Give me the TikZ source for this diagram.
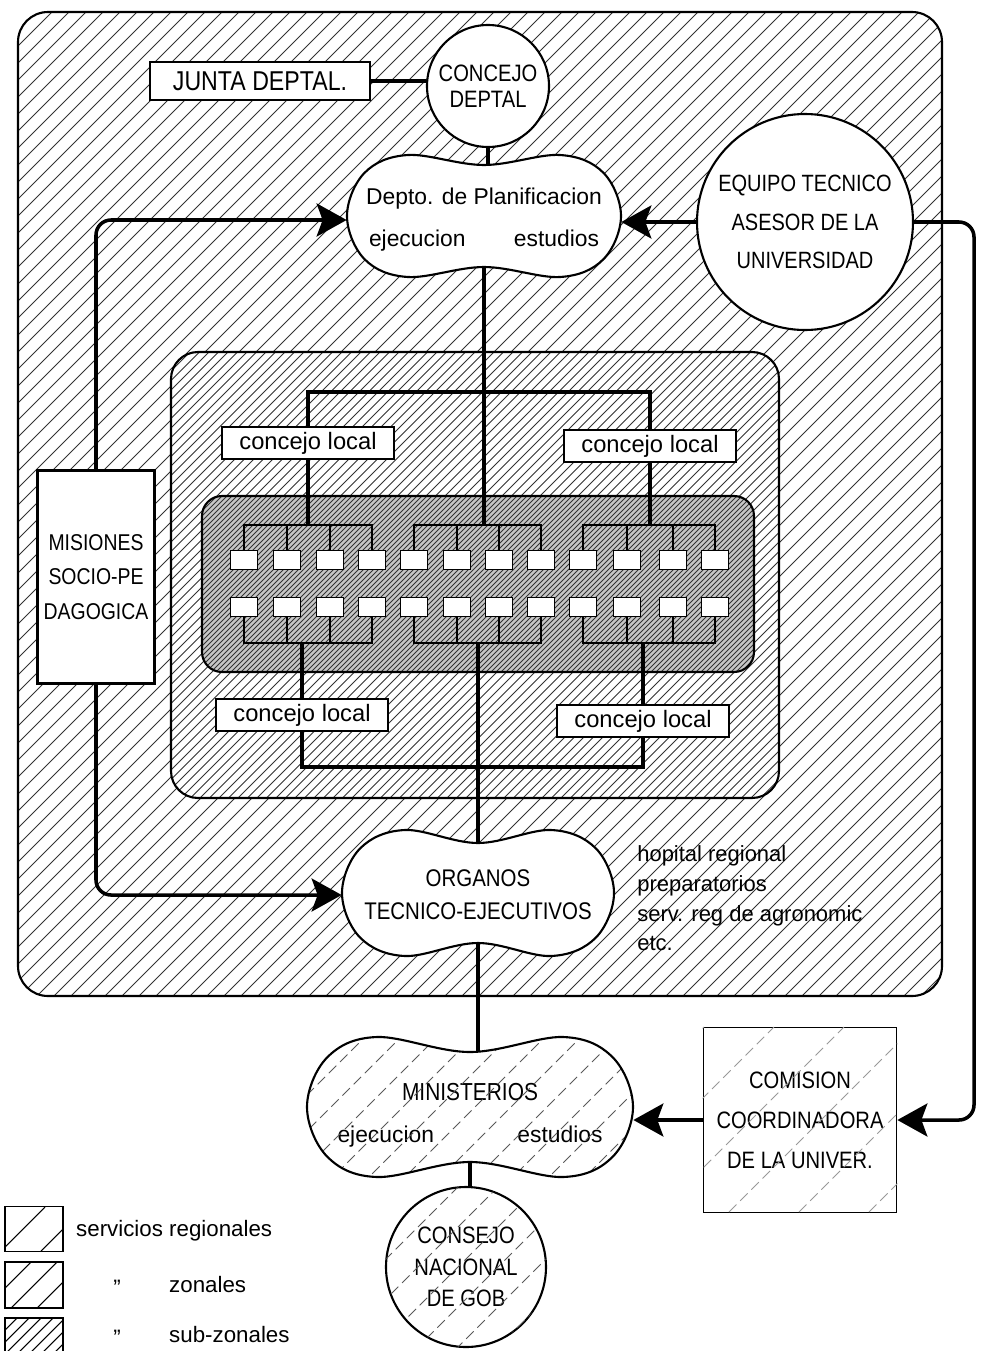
\documentclass[tikz,border=0pt]{standalone}
\usepackage{fontspec}
\setmainfont{Liberation Sans}
\newfontfamily\capsfont{Liberation Sans}[FakeStretch=0.85]
\usetikzlibrary{arrows.meta}

\pgfdeclarelayer{zones}
\pgfdeclarelayer{wires}
\pgfsetlayers{zones,wires,main}

% diagonal hatching of a box: x1, y1, x2, y2, gap
\newcommand{\hatchlines}[5]{%
  \pgfmathtruncatemacro{\hn}{(#3+#4-#1-#2)/#5}%
  \foreach \k in {0,...,\hn}{%
    \pgfmathsetmacro{\hc}{#1+#2+\k*#5}%
    \draw ({\hc-#4},#4) -- ({\hc-#2},#2);%
  }}

% two-lobed outline: options, centre, half width, half height, waist
\newcommand{\peanut}[5]{%
  \path[#1, shift={#2}] plot[smooth cycle, tension=0.6] coordinates {
    (#3,0) ({#3-0.29*#4},{0.71*#4}) ({#3-#4},#4) (0,{#4-#5})
    ({#4-#3},#4) ({0.29*#4-#3},{0.71*#4}) (-#3,0)
    ({0.29*#4-#3},{-0.71*#4}) ({#4-#3},-#4) (0,{#5-#4})
    ({#3-#4},-#4) ({#3-0.29*#4},{-0.71*#4})};}

\begin{document}
\begin{tikzpicture}[x=0.2mm, y=-0.2mm,
  rim/.style={line width=1.2pt},
  hatchline/.style={line width=0.45pt, black!80},
  faint/.style={line width=0.5pt, black!65, dash pattern=on 6pt off 3pt},
  box/.style={draw, line width=1.2pt, fill=white, align=center, inner sep=0pt},
  cell/.style={draw, line width=0.8pt, fill=white, minimum width=5.4mm, minimum height=3.8mm, inner sep=0pt},
  ring/.style={circle, draw, line width=1.2pt, fill=white, align=center, inner sep=0pt},
  blob/.style={align=center, inner sep=0pt},
  trunk/.style={line width=2pt},
  spur/.style={line width=1.5pt},
  feed/.style={line width=2pt, rounded corners=3mm, -{Stealth[length=6mm, width=6.6mm, inset=1.2mm]}},
]
\useasboundingbox (0,0) rectangle (988,1351);

% Zones
\begin{pgfonlayer}{zones}
  \begin{scope}[hatchline]
    \clip[rounded corners=6mm] (18,12) rectangle (942,996);
    \hatchlines{18}{12}{942}{996}{17}
  \end{scope}
  \draw[rim, rounded corners=6mm] (18,12) rectangle (942,996);
  \fill[white, rounded corners=5.4mm] (171,352) rectangle (779,798);
  \begin{scope}[hatchline]
    \clip[rounded corners=5.4mm] (171,352) rectangle (779,798);
    \hatchlines{171}{352}{779}{798}{9.5}
  \end{scope}
  \draw[rim, rounded corners=5.4mm] (171,352) rectangle (779,798);
  \fill[black!22, rounded corners=4mm] (202,496) rectangle (754,672);
  \begin{scope}[hatchline, line width=0.5pt]
    \clip[rounded corners=4mm] (202,496) rectangle (754,672);
    \hatchlines{202}{496}{754}{672}{5}
  \end{scope}
  \draw[rim, rounded corners=4mm] (202,496) rectangle (754,672);
\end{pgfonlayer}

% Departmental level
\node[box, minimum width=44mm, minimum height=7.6mm, font=\capsfont\fontsize{15.5}{18}\selectfont] (junta) at (260,81) {JUNTA DEPTAL.};
\node[ring, minimum size=24.4mm, font=\capsfont\fontsize{13.5}{15}\selectfont] (concejo) at (488,86) {CONCEJO\\DEPTAL};
\peanut{draw, rim, fill=white}{(484,216)}{137}{61}{10}
\node[blob, minimum width=54.8mm, minimum height=24.4mm, font=\fontsize{13}{24}\selectfont] (plan) at (484,220) {Depto. de Planificacion\\\makebox[46mm]{ejecucion\hfill estudios}};
\node[ring, minimum size=43.2mm, font=\capsfont\fontsize{13.4}{22}\selectfont] (equipo) at (805,222) {EQUIPO TECNICO\\ASESOR DE LA\\UNIVERSIDAD};
\node[box, minimum width=23.4mm, minimum height=42.6mm, font=\capsfont\fontsize{13}{19.6}\selectfont] (misiones) at (96,577) {MISIONES\\SOCIO-PE\\DAGOGICA};

% Local councils
\node[box, minimum width=34.4mm, minimum height=6.4mm, font=\fontsize{13.5}{16}\selectfont] (cl1) at (308,443) {concejo local};
\node[box, minimum width=34.4mm, minimum height=6.4mm, font=\fontsize{13.5}{16}\selectfont] (cl2) at (650,446) {concejo local};
\node[box, minimum width=34.4mm, minimum height=6.4mm, font=\fontsize{13.5}{16}\selectfont] (cl3) at (302,715) {concejo local};
\node[box, minimum width=34.4mm, minimum height=6.4mm, font=\fontsize{13.5}{16}\selectfont] (cl4) at (643,721) {concejo local};

% Cells
\foreach \x [count=\c] in {244,287,330,372,414,457,499,541,583,627,673,715} {
  \node[cell] (b-1-\c) at (\x,560) {};
  \node[cell] (b-2-\c) at (\x,607) {};
}

% Executive level
\peanut{draw, rim, fill=white}{(478,893)}{136}{63}{13}
\node[blob, minimum width=54.4mm, minimum height=25.2mm, font=\capsfont\fontsize{13.7}{18.7}\selectfont] (organos) at (478,895) {ORGANOS\\TECNICO-EJECUTIVOS};
\node[anchor=north west, align=left, inner sep=0pt, font=\fontsize{12.5}{17}\selectfont] (servicios) at (637,845) {hopital regional\\preparatorios\\serv. reg de agronomic\\etc.};

% National level
\peanut{fill=white}{(470,1107)}{163}{70}{15}
\node[blob, minimum width=65.2mm, minimum height=28mm, font=\fontsize{13}{23.8}\selectfont] (ministerios) at (470,1115) {{\capsfont\fontsize{14}{16}\selectfont MINISTERIOS}\\\makebox[53mm]{ejecucion\hfill estudios}};
\begin{scope}[faint]
  \peanut{clip}{(470,1107)}{163}{70}{15}
  \hatchlines{300}{1030}{640}{1185}{36}
\end{scope}
\peanut{draw, rim}{(470,1107)}{163}{70}{15}

\node[ring, minimum size=32mm, font=\capsfont\fontsize{13.5}{18}\selectfont] (nacional) at (466,1267) {CONSEJO\\NACIONAL\\DE GOB};
\begin{scope}[faint]
  \clip (nacional.center) circle[radius=16mm];
  \hatchlines{380}{1185}{550}{1350}{40}
\end{scope}

\node[box, minimum width=38.6mm, minimum height=37mm, line width=1pt, font=\capsfont\fontsize{13.5}{22.7}\selectfont] (comision) at (800,1120) {COMISION\\COORDINADORA\\DE LA UNIVER.};
\begin{scope}[faint, black!40]
  \clip (comision.south west) rectangle (comision.north east);
  \hatchlines{704}{1027}{897}{1212}{70}
\end{scope}

% Legend
\node[box, minimum width=11.6mm, minimum height=9mm, line width=0.9pt] (key1) at (34,1229) {};
\node[box, minimum width=11.6mm, minimum height=9.2mm, line width=0.9pt] (key2) at (34,1285) {};
\node[box, minimum width=11.6mm, minimum height=8.8mm, line width=0.9pt] (key3) at (34,1340) {};
\begin{scope}[line width=0.6pt]
  \clip (key1.south west) rectangle (key1.north east);
  \hatchlines{5}{1207}{63}{1251}{40}
\end{scope}
\begin{scope}[line width=0.6pt]
  \clip (key2.south west) rectangle (key2.north east);
  \hatchlines{5}{1262}{63}{1308}{26}
\end{scope}
\begin{scope}[line width=0.6pt]
  \clip (key3.south west) rectangle (key3.north east);
  \hatchlines{5}{1318}{63}{1362}{12}
\end{scope}
\node[anchor=west, font=\fontsize{12.7}{15}\selectfont] (key1-text) at (70,1231) {servicios regionales};
\node[font=\fontsize{12.7}{15}\selectfont] (key2-ditto) at (117,1288) {\textquotedblright};
\node[anchor=west, font=\fontsize{12.7}{15}\selectfont] (key2-text) at (163,1285) {zonales};
\node[font=\fontsize{12.7}{15}\selectfont] (key3-ditto) at (117,1338) {\textquotedblright};
\node[anchor=west, font=\fontsize{12.7}{15}\selectfont] (key3-text) at (163,1335) {sub-zonales};

% Links
\coordinate (upbar) at (0,392);
\coordinate (topbar) at (0,525);
\coordinate (botbar) at (0,643);
\coordinate (lowbar) at (0,767);
\coordinate (rail) at (974,0);
\begin{pgfonlayer}{wires}
  \draw[trunk] (junta.east) -- (junta.east -| concejo.west);
  \draw[trunk] (concejo.south) -- (concejo.south |- plan.center);
  \draw[trunk] (plan.center) -- (plan.center |- topbar);
  \draw[trunk] (cl1.north) -- (cl1.north |- upbar) -| (cl2.north);
  \draw[trunk] (cl1.south) -- (cl1.south |- topbar);
  \draw[trunk] (cl2.south) -- (cl2.south |- topbar);
  \draw[trunk] (cl3.north) -- (cl3.north |- botbar);
  \draw[trunk] (cl4.north) -- (cl4.north |- botbar);
  \draw[trunk] (cl3.south) -- (cl3.south |- lowbar) -| (cl4.south);
  \draw[trunk] (organos.center) -- (organos.center |- botbar);
  \draw[trunk] (organos.center) -- (organos.center |- ministerios.center);
  \draw[trunk] (ministerios.center) -- (ministerios.center |- nacional.center);
  % cell groups
  \foreach \a/\b in {1/4,5/8,9/12} {
    \draw[spur] (b-1-\a.north) -- (b-1-\a.north |- topbar) -- (b-1-\b.north |- topbar) -- (b-1-\b.north);
    \draw[spur] (b-2-\a.south) -- (b-2-\a.south |- botbar) -- (b-2-\b.south |- botbar) -- (b-2-\b.south);
  }
  \foreach \c in {2,3,6,7,10,11} {
    \draw[spur] (b-1-\c.north) -- (b-1-\c.north |- topbar);
    \draw[spur] (b-2-\c.south) -- (b-2-\c.south |- botbar);
  }
  % arrows
  \draw[feed] (misiones.north) |- (plan.west);
  \draw[feed] (misiones.south) |- (organos.west);
  \draw[feed] (equipo.west) -- (equipo.west -| plan.east);
  \draw[feed] (equipo.east) -| (rail |- comision.east) -- (comision.east);
  \draw[feed] (comision.west) -- (comision.west -| ministerios.east);
\end{pgfonlayer}
\end{tikzpicture}
\end{document}
